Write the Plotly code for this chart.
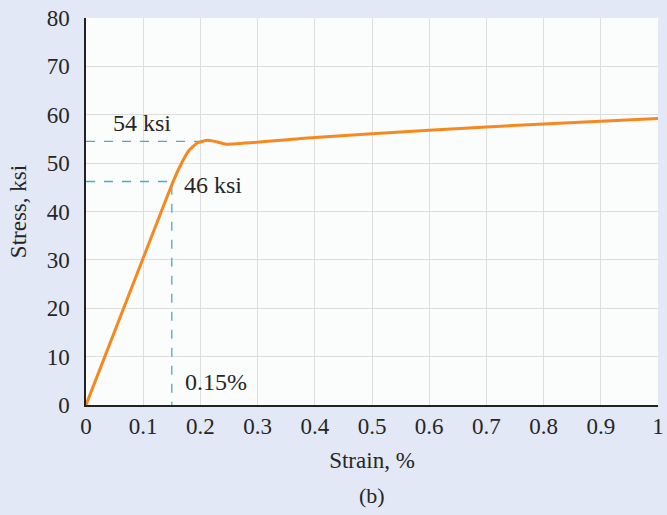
import plotly.graph_objects as go

# stress-strain curve
strain = [0, 0.13, 0.15, 0.165, 0.18, 0.195, 0.21, 0.225, 0.245, 0.4, 0.6, 0.8, 1.0]
stress = [0, 39.5, 45.5, 49.5, 52.6, 54.2, 54.7, 54.5, 53.9, 55.3, 56.8, 58.1, 59.2]

yield_strain = 0.15
yield_stress = 46.2
upper_stress = 54.5
upper_strain = 0.21

x_ticks = [0, 0.1, 0.2, 0.3, 0.4, 0.5, 0.6, 0.7, 0.8, 0.9, 1]
x_labels = ["0", "0.1", "0.2", "0.3", "0.4", "0.5", "0.6", "0.7", "0.8", "0.9", "1"]
y_ticks = [0, 10, 20, 30, 40, 50, 60, 70, 80]

FONT = "Liberation Serif, Times New Roman, serif"
TEXT = "#262626"
DASH = "#4aaeb8"

fig = go.Figure()

# guide lines
fig.add_trace(go.Scatter(
    x=[0, upper_strain], y=[upper_stress, upper_stress], mode="lines",
    line=dict(color=DASH, width=1.3, dash="dash"), hoverinfo="skip",
))
fig.add_trace(go.Scatter(
    x=[0, yield_strain, yield_strain], y=[yield_stress, yield_stress, 0], mode="lines",
    line=dict(color=DASH, width=1.3, dash="dash"), hoverinfo="skip",
))

fig.add_trace(go.Scatter(
    x=strain, y=stress, mode="lines",
    line=dict(color="#f5891f", width=3, shape="spline", smoothing=0.35),
))

for txt, ax, ay in [("54 ksi", 0.098, 58.2), ("46 ksi", 0.222, 45.4), ("0.15%", 0.228, 4.8)]:
    fig.add_annotation(x=ax, y=ay, text=txt, showarrow=False,
                       font=dict(size=24, color=TEXT, family=FONT))

fig.add_annotation(x=0.5, xref="paper", y=-0.235, yref="paper", yanchor="middle",
                   text="(b)", showarrow=False,
                   font=dict(size=22, color=TEXT, family=FONT))

fig.update_layout(
    width=667, height=515,
    margin=dict(l=86, r=9, t=18, b=110),
    paper_bgcolor="#e2e8f5",
    plot_bgcolor="#fbfcfc",
    showlegend=False,
    font=dict(family=FONT, color=TEXT, size=22),
)
fig.update_xaxes(
    range=[0, 1], tickvals=x_ticks, ticktext=x_labels,
    showgrid=True, gridcolor="#dedede", gridwidth=1.2, zeroline=False,
    showline=True, linecolor="#222", linewidth=1.5, automargin=False,
    ticks="", tickfont=dict(size=23),
    title=dict(text="Strain, %", font=dict(size=23), standoff=14),
)
fig.update_yaxes(
    range=[0, 80], tickvals=y_ticks,
    showgrid=True, gridcolor="#dedede", gridwidth=1.2, zeroline=False,
    showline=True, linecolor="#222", linewidth=1.5, automargin=False,
    ticks="", tickfont=dict(size=23), ticklabelstandoff=10,
    title=dict(text="Stress, ksi", font=dict(size=23), standoff=14),
)

fig.write_html("out.html", config={"displayModeBar": False},
               post_script="document.body.style.margin='0';")
